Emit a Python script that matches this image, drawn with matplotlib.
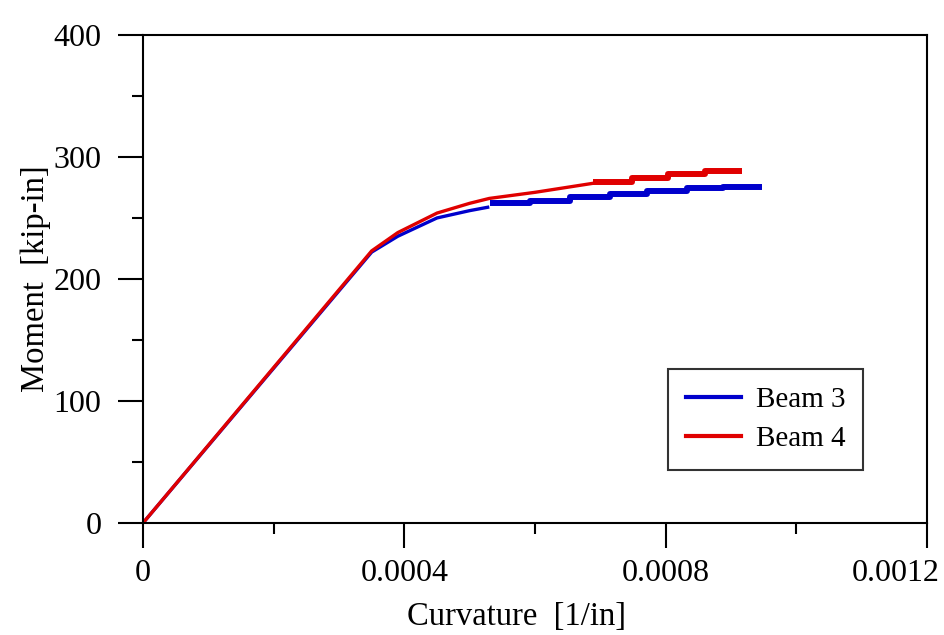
import matplotlib
matplotlib.use("Agg")
import matplotlib.pyplot as plt
import matplotlib.transforms as mtransforms
from matplotlib.ticker import MultipleLocator

# Beam 3: elastic + transition
b3_x = [0.0, 0.00035, 0.00039, 0.00045, 0.00050, 0.00053]
b3_y = [0.0, 222.0, 235.0, 250.0, 256.0, 259.0]
# Beam 3: stepped plateau (step start positions, last entry = end of final step)
b3_sx = [0.000531, 0.000592, 0.000654, 0.000715, 0.000771, 0.000833, 0.000888, 0.000947]
b3_sy = [262.0, 264.2, 267.0, 269.7, 272.4, 274.3, 275.7, 275.7]

# Beam 4: elastic + transition
b4_x = [0.0, 0.00035, 0.00039, 0.00045, 0.00050, 0.00053, 0.00060, 0.00069]
b4_y = [0.0, 223.0, 238.0, 254.0, 262.0, 266.0, 271.0, 278.5]
# Beam 4: stepped plateau
b4_sx = [0.000689, 0.000748, 0.000804, 0.000860, 0.000917]
b4_sy = [279.8, 282.5, 285.8, 288.5, 288.5]

xticks = [0, 0.0004, 0.0008, 0.0012]
xtick_labels = ["0", "0.0004", "0.0008", "0.0012"]
yticks = [0, 100, 200, 300, 400]
ytick_labels = ["0", "100", "200", "300", "400"]

blue = "#0000CC"
red = "#E00000"

plt.rcParams['font.family'] = ['Liberation Serif', 'DejaVu Serif']

fig = plt.figure(figsize=(9.44, 6.35), dpi=100)
ax = fig.add_axes([0.1515, 0.1764, 0.8305, 0.7686])

ax.plot(b3_x, b3_y, color=blue, lw=2.4, solid_capstyle='butt')
ax.step(b3_sx, b3_sy, where='post', color=blue, lw=4.3, solid_capstyle='butt')
ax.plot(b4_x, b4_y, color=red, lw=2.4, solid_capstyle='butt')
ax.step(b4_sx, b4_sy, where='post', color=red, lw=4.3, solid_capstyle='butt')

# legend proxies
l3, = ax.plot([], [], color=blue, lw=3, label="Beam 3")
l4, = ax.plot([], [], color=red, lw=3, label="Beam 4")
leg = ax.legend(handles=[l3, l4], loc='lower right', bbox_to_anchor=(0.918, 0.109),
                borderaxespad=0, fontsize=21, frameon=True, fancybox=False,
                edgecolor='black', handlelength=1.9, borderpad=0.6,
                labelspacing=0.45, handletextpad=0.5)
leg.get_frame().set_linewidth(1.5)

ax.set_xlim(0, 0.0012)
ax.set_ylim(0, 400)
ax.set_xticks(xticks)
ax.set_xticklabels(xtick_labels)
ax.set_yticks(yticks)
ax.set_yticklabels(ytick_labels)
ax.xaxis.set_minor_locator(MultipleLocator(0.0002))
ax.yaxis.set_minor_locator(MultipleLocator(50))

ax.tick_params(axis='both', which='major', direction='out', length=18, width=1.5,
               labelsize=23, colors='black')
ax.tick_params(axis='both', which='minor', direction='out', length=8, width=1.5)
ax.tick_params(axis='y', which='major', pad=12)
ax.tick_params(axis='x', which='major', pad=8)

# keep last x tick label inside the figure (as in reference)
last = ax.get_xticklabels()[-1]
last.set_horizontalalignment('right')
last.set_transform(last.get_transform() +
                   mtransforms.ScaledTranslation(13 / 100, 0, fig.dpi_scale_trans))

for s in ax.spines.values():
    s.set_linewidth(1.5)
    s.set_color('black')

ax.set_xlabel("Curvature  [1/in]", fontsize=23.5, labelpad=8)
ax.xaxis.set_label_coords(0.477, -0.16)
ax.set_ylabel("Moment  [kip-in]", fontsize=23.5, labelpad=2)

fig.savefig("out.png", dpi=100)
